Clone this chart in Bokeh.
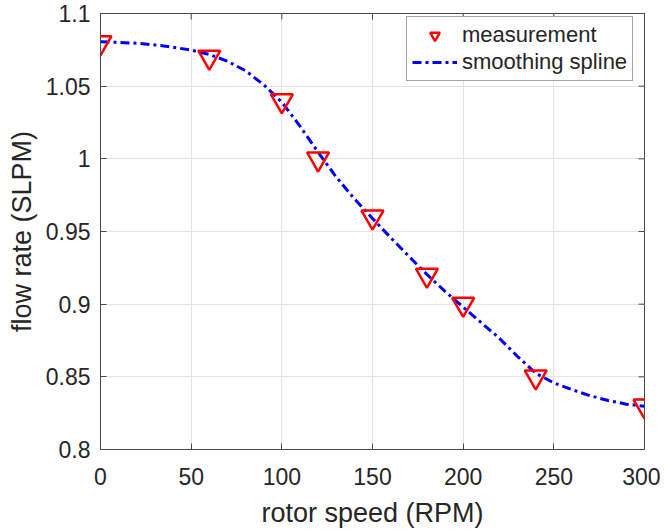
import math
from bokeh.plotting import figure
from bokeh.models import Range1d, FixedTicker, Legend, LegendItem
from bokeh.embed import file_html
from bokeh.resources import INLINE

# measured points
meas_x = [0, 60, 100, 120, 150, 180, 200, 240, 300]
meas_y = [1.08, 1.07, 1.04, 1.00, 0.96, 0.92, 0.90, 0.85, 0.83]

# smoothing spline
spline_x = [0, 10, 20, 30, 40, 50, 60, 70, 80, 90, 100, 110, 120, 130, 140, 150,
            160, 170, 180, 190, 200, 210, 220, 230, 240, 250, 260, 270, 280, 290, 300]
spline_y = [1.0805, 1.0802, 1.0795, 1.0784, 1.0768, 1.0748, 1.0718, 1.0672, 1.0606,
            1.0510, 1.0390, 1.0225, 1.0045, 0.9875, 0.9725, 0.9590, 0.9458, 0.9330,
            0.9205, 0.9088, 0.8980, 0.8872, 0.8765, 0.8640, 0.8525, 0.8458, 0.8412,
            0.8370, 0.8337, 0.8312, 0.8298]

x_ticks = [0, 50, 100, 150, 200, 250, 300]
y_ticks = [0.8, 0.85, 0.9, 0.95, 1.0, 1.05, 1.1]
y_tick_labels = ["0.8", "0.85", "0.9", "0.95", "1", "1.05", "1.1"]

FONT = "Liberation Sans"
AX_COL = "#4a4a4a"
TXT_COL = "#262626"

x0, x1 = 0, 300
y0, y1 = 0.8, 1.1

p = figure(width=660, height=530, output_backend="svg", toolbar_location=None,
           x_range=Range1d(x0, x1), y_range=Range1d(y0, y1),
           min_border_left=100, min_border_right=16, min_border_top=13,
           min_border_bottom=76)

p.background_fill_color = "white"
p.border_fill_color = "white"
p.outline_line_color = AX_COL
p.outline_line_width = 1

p.xgrid.ticker = FixedTicker(ticks=x_ticks)
p.ygrid.ticker = FixedTicker(ticks=y_ticks)
for g in (p.xgrid, p.ygrid):
    g.grid_line_color = "#e3e3e3"
    g.grid_line_width = 1

def style(ax):
    ax.axis_line_color = AX_COL
    ax.axis_line_width = 1
    ax.major_tick_line_color = AX_COL
    ax.major_tick_in = 6
    ax.major_tick_out = 0
    ax.minor_tick_line_color = None
    ax.major_label_text_font = FONT
    ax.major_label_text_color = TXT_COL
    ax.axis_label_text_font = FONT
    ax.axis_label_text_color = TXT_COL
    ax.axis_label_text_font_style = "normal"

xa = p.xaxis[0]
ya = p.yaxis[0]
xa.ticker = FixedTicker(ticks=x_ticks)
ya.ticker = FixedTicker(ticks=y_ticks)
ya.major_label_overrides = {t: l for t, l in zip(y_ticks, y_tick_labels)}
style(xa)
style(ya)
xa.major_label_text_font_size = "23px"
ya.major_label_text_font_size = "23px"
xa.major_label_standoff = 18
ya.major_label_standoff = 10
xa.axis_label = "rotor speed (RPM)"
ya.axis_label = "flow rate (SLPM)"
xa.axis_label_text_font_size = "27px"
ya.axis_label_text_font_size = "27px"
xa.axis_label_standoff = 10
ya.axis_label_standoff = 6

# inward ticks on the top and right edges (box on); the half outside the frame is clipped
p.scatter(x_ticks, [y1] * len(x_ticks), marker="dash", size=12, angle=math.pi / 2,
          line_color=AX_COL, line_width=1)
p.scatter([x1] * len(y_ticks), y_ticks, marker="dash", size=12, angle=0,
          line_color=AX_COL, line_width=1)

r_line = p.line(spline_x, spline_y, line_color="#0000ff", line_width=3,
                line_dash="9 4 3 4")
r_meas = p.scatter(meas_x, meas_y, marker="inverted_triangle", size=22,
                   line_color="#ff0000", line_width=2.5, fill_color=None)

legend = Legend(items=[LegendItem(label="measurement", renderers=[r_meas]),
                       LegendItem(label="smoothing spline", renderers=[r_line])],
                location=(306, 368))
legend.margin = 0
legend.padding = 5
legend.spacing = 1
legend.glyph_width = 45
legend.glyph_height = 24
legend.label_height = 24
legend.label_standoff = 5
legend.label_text_font = FONT
legend.label_text_font_size = "22px"
legend.label_text_color = TXT_COL
legend.border_line_color = AX_COL
legend.border_line_width = 1
legend.background_fill_color = "white"
legend.background_fill_alpha = 1
p.add_layout(legend)

open("out.html", "w").write(file_html(p, INLINE))
